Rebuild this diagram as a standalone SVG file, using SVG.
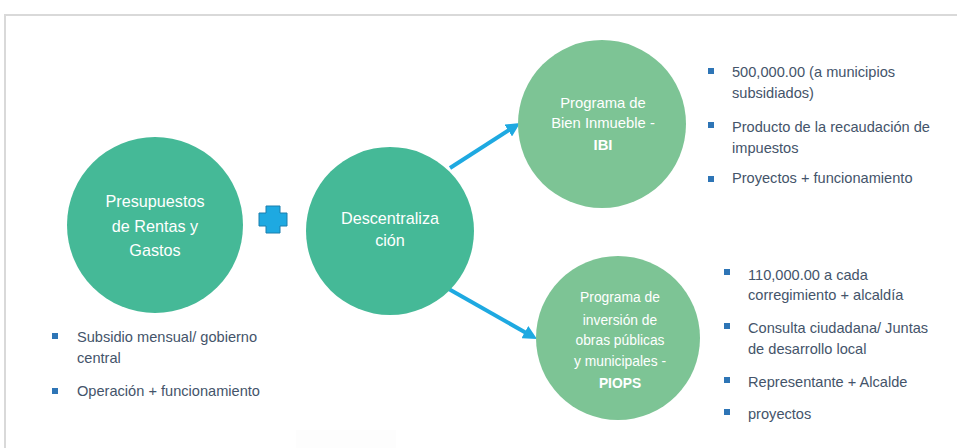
<svg xmlns="http://www.w3.org/2000/svg" width="957" height="448" viewBox="0 0 957 448">
<defs>
<style>
.ctext{font-family:"Liberation Sans",Arial,sans-serif;fill:#FFFFFF;text-anchor:middle}
.btext{font-family:"Liberation Sans",Arial,sans-serif;font-size:14.6px;fill:#44546A}
.bul{fill:#2E75B6}
.teal{fill:#45B997}
.lgreen{fill:#7DC495}
.arrow{stroke:#1EA9E1;stroke-width:4;fill:none;marker-end:url(#ah)}
</style>
<marker id="ah" viewBox="0 0 10 10" markerWidth="3.5" markerHeight="3.5" refX="3" refY="5" orient="auto" markerUnits="strokeWidth">
<path d="M0,0 L10,5 L0,10 z" fill="#1EA9E1"/>
</marker>
</defs>
<rect width="957" height="448" fill="#FFFFFF"/>
<path d="M5,448 V15 H957" fill="none" stroke="#D9D9D9" stroke-width="2"/>
<rect x="296" y="430" width="100" height="18" fill="#FDFDFD"/>

<g id="connectors">
<path class="arrow" d="M450,168 L511.8,128.3"/>
<path class="arrow" d="M447,288 L528.5,334.2"/>
</g>

<g id="presupuestos">
<circle class="teal" cx="155" cy="225" r="88"/>
<text class="ctext" font-size="16.2" x="155" y="207">Presupuestos</text>
<text class="ctext" font-size="16.2" x="155" y="232">de Rentas y</text>
<text class="ctext" font-size="16.2" x="155" y="256">Gastos</text>
</g>

<g id="plus">
<polygon points="266,206 280,206 280,213 287,213 287,226 280,226 280,233 266,233 266,226 259,226 259,213 266,213" fill="#1EA9E1" stroke="#1A7EAD" stroke-width="1"/>
</g>

<g id="descentralizacion">
<circle class="teal" cx="390" cy="231" r="84"/>
<text class="ctext" font-size="16.2" x="390" y="224">Descentraliza</text>
<text class="ctext" font-size="16.2" x="390" y="246">ción</text>
</g>

<g id="ibi">
<circle class="lgreen" cx="602" cy="124" r="84"/>
<text class="ctext" font-size="14.8" x="603" y="108">Programa de</text>
<text class="ctext" font-size="14.8" x="603" y="128">Bien Inmueble -</text>
<text class="ctext" font-size="14.8" font-weight="bold" x="603" y="150">IBI</text>
</g>

<g id="piops">
<circle class="lgreen" cx="618" cy="338" r="82"/>
<text class="ctext" font-size="13.8" x="620" y="302">Programa de</text>
<text class="ctext" font-size="13.8" x="620" y="325">inversión de</text>
<text class="ctext" font-size="13.8" x="620" y="345">obras públicas</text>
<text class="ctext" font-size="13.8" x="620" y="366">y municipales -</text>
<text class="ctext" font-size="13.8" font-weight="bold" x="620" y="388">PIOPS</text>
</g>

<g id="ibi-bullets">
<rect class="bul" x="708" y="68" width="6" height="6"/>
<text class="btext" x="732" y="77">500,000.00 (a municipios</text>
<text class="btext" x="732" y="98">subsidiados)</text>
<rect class="bul" x="708" y="122" width="6" height="6"/>
<text class="btext" x="732" y="132">Producto de la recaudación de</text>
<text class="btext" x="732" y="153">impuestos</text>
<rect class="bul" x="708" y="176" width="6" height="6"/>
<text class="btext" x="732" y="183">Proyectos + funcionamiento</text>
</g>

<g id="piops-bullets">
<rect class="bul" x="724" y="269" width="6" height="6"/>
<text class="btext" x="748" y="280">110,000.00 a cada</text>
<text class="btext" x="748" y="300">corregimiento + alcaldía</text>
<rect class="bul" x="724" y="323" width="6" height="6"/>
<text class="btext" x="748" y="333">Consulta ciudadana/ Juntas</text>
<text class="btext" x="748" y="354">de desarrollo local</text>
<rect class="bul" x="724" y="377" width="6" height="6"/>
<text class="btext" x="748" y="387">Representante + Alcalde</text>
<rect class="bul" x="724" y="409" width="6" height="6"/>
<text class="btext" x="748" y="419">proyectos</text>
</g>

<g id="presupuestos-bullets">
<rect class="bul" x="52" y="333" width="6" height="6"/>
<text class="btext" x="77" y="342">Subsidio mensual/ gobierno</text>
<text class="btext" x="77" y="363">central</text>
<rect class="bul" x="52" y="388" width="6" height="6"/>
<text class="btext" x="77" y="396">Operación + funcionamiento</text>
</g>
</svg>
